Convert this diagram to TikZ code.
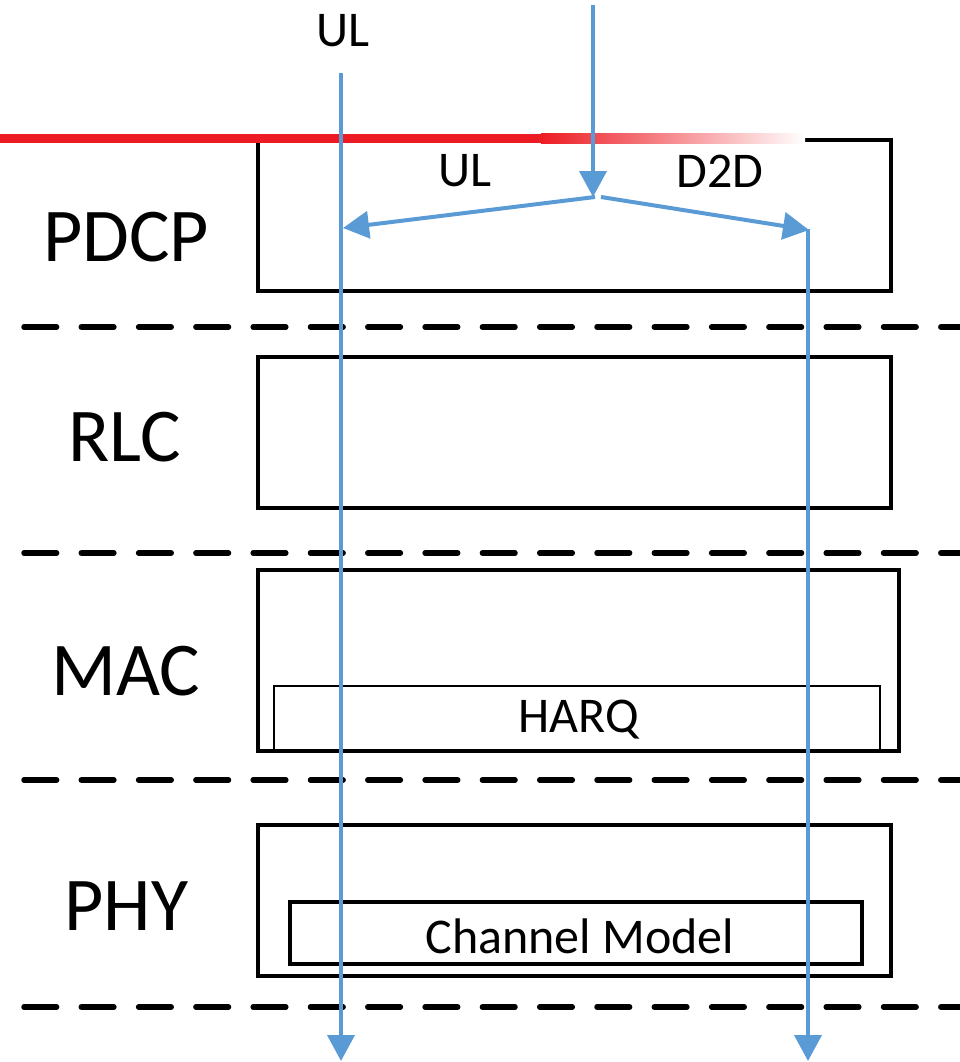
\documentclass[tikz,border=0pt]{standalone}
\usepackage{fontspec}
\setmainfont{Carlito}
\usetikzlibrary{arrows.meta}
\definecolor{flowblue}{RGB}{91,155,213}
\definecolor{barred}{RGB}{237,28,36}
\begin{document}
\begin{tikzpicture}[x=1pt,y=-1pt,
  layerbox/.style={draw=black, line width=4.5pt, minimum width=633pt, minimum height=151pt, inner sep=0pt},
  subbox/.style={draw=black, inner sep=0pt},
  biglabel/.style={font=\fontsize{76}{90}\selectfont, anchor=base, inner sep=0pt},
  smalllabel/.style={font=\fontsize{50}{60}\selectfont, inner sep=0pt},
  flow/.style={draw=flowblue, line width=4pt},
  flowarrow/.style={flow, -{Triangle[length=26pt,width=27pt]}},
  sepline/.style={line width=5.5pt, line cap=round, dash pattern=on 32.6pt off 24.7pt}]
\useasboundingbox (0,0) rectangle (960,1062);

% layer boxes
\node[layerbox] (pdcp) at (574.5,215.5) {};
\node[layerbox] (rlc) at (574.5,432.5) {};
\node[layerbox, minimum width=641pt, minimum height=181pt, line width=3.5pt] (mac) at (578.5,660.5) {};
\node[subbox, line width=2.5pt, minimum width=606pt, minimum height=65pt] (harq) at (577,718.5) {};
\node[layerbox] (phy) at (574.5,900.5) {};
\node[subbox, line width=4pt, minimum width=572pt, minimum height=62pt] (chan) at (576,933) {};

% inner texts
\node[smalllabel, anchor=base] (harqtext) at (579,732) {HARQ};
\node[smalllabel, anchor=base] (chantext) at (580,953) {Channel Model};

% layer labels
\node[biglabel] (lpdcp) at (126,261) {PDCP};
\node[biglabel] (lrlc) at (125,461) {RLC};
\node[biglabel] (lmac) at (125.5,695) {MAC};
\node[biglabel] (lphy) at (126.5,930) {PHY};

% separators
\draw[sepline] (24,327) -- (960,327);
\draw[sepline] (24,553) -- (960,553);
\draw[sepline] (24,780) -- (960,780);
\draw[sepline] (24,1007) -- (960,1007);

% red bar
\fill[barred] (0,133.5) rectangle (541,143);
\shade[left color=barred, right color=white] (541,133.5) rectangle (805,143);

% flow labels
\node[smalllabel] (ultop) at (343,31) {UL};
\node[smalllabel] (ulin) at (465,171) {UL};
\node[smalllabel] (d2d) at (720,171) {D2D};

% flow coordinates
\coordinate (intop) at (593,5);
\coordinate (split) at (593,197);
\coordinate (splitl) at (595,197);
\coordinate (splitr) at (601,197);
\coordinate (ulturn) at (343,228);
\coordinate (d2dturn) at (809,230);
\coordinate (d2dstart) at (808,229);
\coordinate (ulstart) at (341,73);
\coordinate (ulend) at (341,1061);
\coordinate (d2dend) at (808,1061);

\draw[flowarrow] (intop) -- (split);
\draw[flowarrow] (splitl) -- (ulturn);
\draw[flowarrow] (splitr) -- (d2dturn);
\draw[flowarrow] (ulstart) -- (ulend);
\draw[flowarrow] (d2dstart) -- (d2dend);
\end{tikzpicture}
\end{document}
